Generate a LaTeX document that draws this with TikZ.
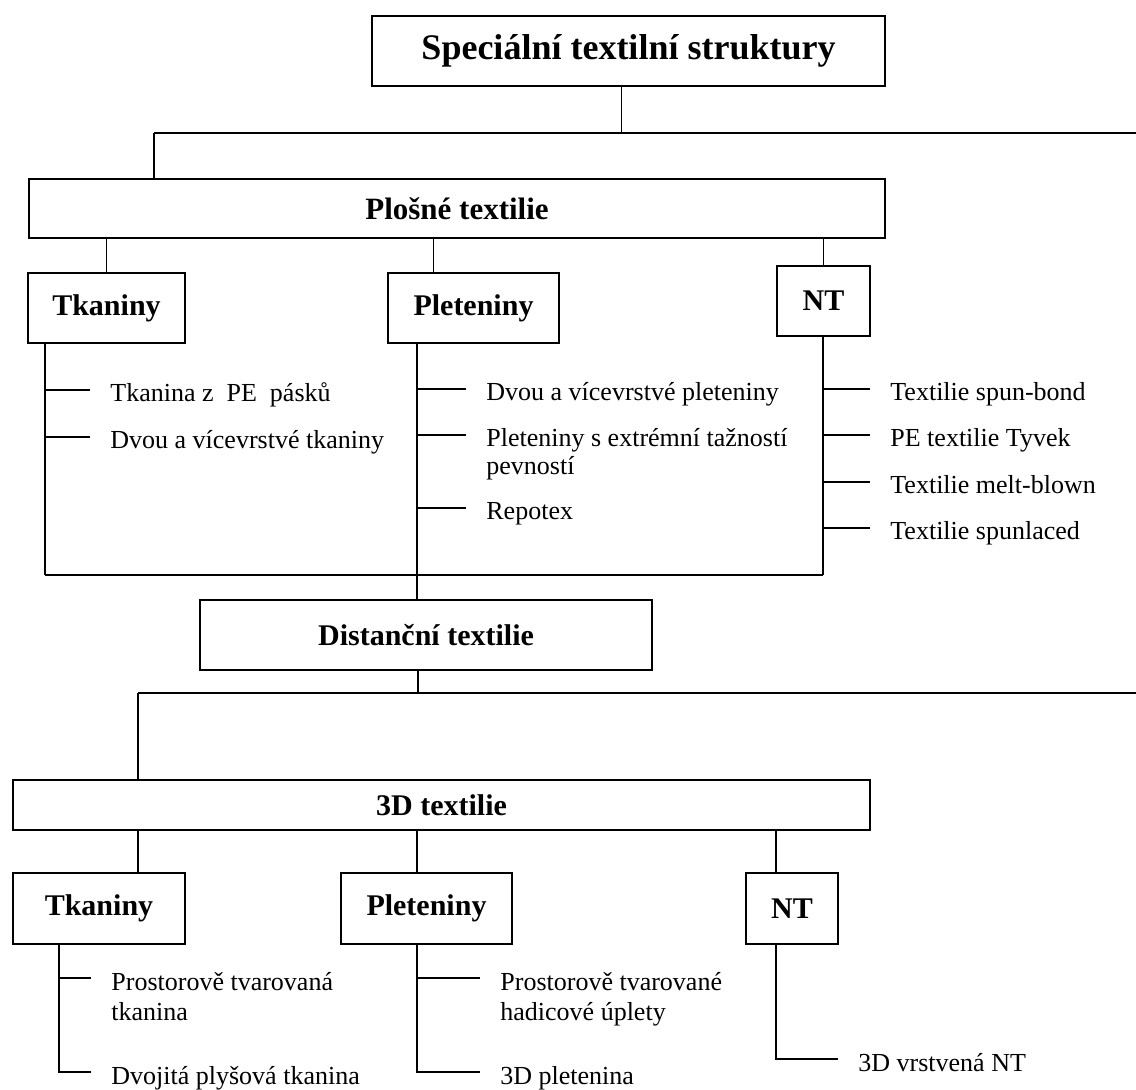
\documentclass[tikz,border=0pt]{standalone}
\usepackage{fontspec}
\setmainfont{Liberation Serif}
\usepackage{tikz}

\begin{document}
\begin{tikzpicture}[x=0.5pt, y=-0.5pt,
		box/.style={draw, line width=0.9pt, inner sep=0pt, font=\bfseries\fontsize{15}{18}\selectfont},
		leaf/.style={anchor=base west, inner sep=0pt, align=left, font=\fontsize{13}{15}\selectfont},
		link/.style={line width=0.65pt},
		bus/.style={line width=0.9pt},
		tick/.style={line width=0.75pt}]
		\useasboundingbox (0,0) rectangle (1136,1090);

		% boxes
		\node[box, minimum width=256.5pt, minimum height=35pt, font=\bfseries\fontsize{18}{22}\selectfont] (title) at (628.5,51) {Speciální textilní struktury};
		\node[box, minimum width=428pt, minimum height=29.5pt, font=\bfseries\fontsize{15.5}{18}\selectfont] (plosne) at (457,208.5) {Plošné textilie};
		\node[box, minimum width=78.5pt, minimum height=35pt] (tk1) at (106.5,308) {Tkaniny};
		\node[box, minimum width=85.5pt, minimum height=35pt] (pl1) at (473.5,308) {Pleteniny};
		\node[box, minimum width=46.5pt, minimum height=35pt] (nt1) at (823.5,301) {NT};
		\node[box, minimum width=226pt, minimum height=35pt] (dist) at (426,635) {Distanční textilie};
		\node[box, minimum width=428.5pt, minimum height=25pt] (td) at (441.5,805) {3D textilie};
		\node[box, minimum width=86pt, minimum height=35.5pt] (tk2) at (99,908.5) {Tkaniny};
		\node[box, minimum width=85.5pt, minimum height=35.5pt] (pl2) at (426.5,908.5) {Pleteniny};
		\node[box, minimum width=46pt, minimum height=35.5pt] (nt2) at (792,908.5) {NT};

		% bus corners and stems
		\coordinate (b1l) at (154,133);
		\coordinate (b1r) at (1136,133);
		\coordinate (b2l) at (45,575);
		\coordinate (b2r) at (823,575);
		\coordinate (b3l) at (138,693);
		\coordinate (b3r) at (1136,693);
		\coordinate (s2) at ([xshift=15pt]pl1.south west);
		\coordinate (s4) at ([xshift=23.5pt]tk2.south west);
		\coordinate (s5) at ([xshift=38.5pt]pl2.south west);
		\coordinate (s6) at ([xshift=15.5pt]nt2.south west);

		\draw[link] ([xshift=-3.5pt]title.south) -- ([xshift=-3.5pt]title.south |- b1l);
		\draw[bus] (b1l) -- (b1r);
		\draw[link] (b1l) -- (b1l |- plosne.north);

		\draw[link] (tk1.north) -- (tk1.north |- plosne.south);
		\draw[link] ([xshift=-20pt]pl1.north) -- ([xshift=-20pt]pl1.north |- plosne.south);
		\draw[link] (nt1.north) -- (nt1.north |- plosne.south);

		% leaves of plosne textilie
		\node[leaf] (l11) at (110,402) {Tkanina z~ PE~ pásků};
		\node[leaf] (l12) at (110,449) {Dvou a vícevrstvé tkaniny};
		\node[leaf] (l21) at (486,401) {Dvou a vícevrstvé pleteniny};
		\node[leaf, font=\fontsize{13}{14}\selectfont] (l22) at (486,475) {Pleteniny s extrémní tažností\\pevností};
		\node[leaf] (l23) at (486,520) {Repotex};
		\node[leaf] (l31) at (890,401) {Textilie spun-bond};
		\node[leaf] (l32) at (890,447) {PE textilie Tyvek};
		\node[leaf] (l33) at (890,494) {Textilie melt-blown};
		\node[leaf] (l34) at (890,540) {Textilie spunlaced};

		\draw[link] (b2l |- tk1.south) -- (b2l);
		\draw[link] (s2) -- (s2 |- dist.north);
		\draw[link] (b2r |- nt1.south) -- (b2r);
		\draw[bus] (b2l) -- (b2r);

		\draw[tick] ([yshift=6pt]l11.base west -| b2l) -- ([xshift=-10pt,yshift=6pt]l11.base west);
		\draw[tick] ([yshift=6pt]l12.base west -| b2l) -- ([xshift=-10pt,yshift=6pt]l12.base west);
		\draw[tick] ([yshift=6pt]l21.base west -| s2) -- ([xshift=-10pt,yshift=6pt]l21.base west);
		\draw[tick] ([yshift=20pt]l22.base west -| s2) -- ([xshift=-10pt,yshift=20pt]l22.base west);
		\draw[tick] ([yshift=6pt]l23.base west -| s2) -- ([xshift=-10pt,yshift=6pt]l23.base west);
		\draw[tick] ([yshift=6pt]l31.base west -| b2r) -- ([xshift=-10pt,yshift=6pt]l31.base west);
		\draw[tick] ([yshift=6pt]l32.base west -| b2r) -- ([xshift=-10pt,yshift=6pt]l32.base west);
		\draw[tick] ([yshift=6pt]l33.base west -| b2r) -- ([xshift=-10pt,yshift=6pt]l33.base west);
		\draw[tick] ([yshift=6pt]l34.base west -| b2r) -- ([xshift=-10pt,yshift=6pt]l34.base west);

		% 3D textilie
		\draw[link] ([xshift=-4pt]dist.south) -- ([xshift=-4pt]dist.south |- b3l);
		\draw[bus] (b3l) -- (b3r);
		\draw[link] (b3l) -- (b3l |- td.north);

		\draw[link] (b3l |- td.south) -- (b3l |- tk2.north);
		\draw[link] (s5 |- td.south) -- (s5 |- pl2.north);
		\draw[link] (s6 |- td.south) -- (s6 |- nt2.north);

		\node[leaf] (l41) at (111,1020) {Prostorově tvarovaná\\tkanina};
		\node[leaf] (l42) at (111,1084) {Dvojitá plyšová tkanina};
		\node[leaf] (l51) at (500,1020) {Prostorově tvarované\\hadicové úplety};
		\node[leaf] (l52) at (500,1084) {3D pletenina};
		\node[leaf] (l61) at (858,1071) {3D vrstvená NT};

		\draw[link] (s4) |- ([xshift=-10pt,yshift=6pt]l42.base west);
		\draw[tick] ([yshift=21pt]l41.base west -| s4) -- ([xshift=-10pt,yshift=21pt]l41.base west);
		\draw[link] (s5) |- ([xshift=-10pt,yshift=6pt]l52.base west);
		\draw[tick] ([yshift=21pt]l51.base west -| s5) -- ([xshift=-10pt,yshift=21pt]l51.base west);
		\draw[link] (s6) |- ([xshift=-10pt,yshift=6pt]l61.base west);
\end{tikzpicture}
\end{document}
